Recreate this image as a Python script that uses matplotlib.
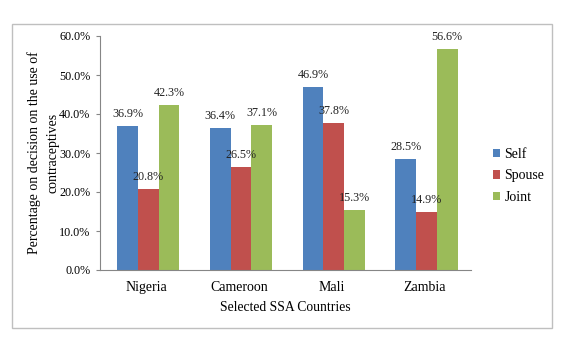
import matplotlib
matplotlib.use('Agg')
import matplotlib.pyplot as plt
from matplotlib.patches import Rectangle
import numpy as np

plt.rcParams['font.family'] = ['Liberation Serif', 'DejaVu Serif']

countries = ['Nigeria', 'Cameroon', 'Mali', 'Zambia']
groups = ['Self', 'Spouse', 'Joint']
self_pct = [36.9, 36.4, 46.9, 28.5]
spouse_pct = [20.8, 26.5, 37.8, 14.9]
joint_pct = [42.3, 37.1, 15.3, 56.6]
colors = ['#4F81BD', '#C0504D', '#9BBB59']

W, H = 571, 339
fig = plt.figure(figsize=(W / 100, H / 100), dpi=100)

# outer chart border
fig.patches.append(Rectangle((12 / W, 1 - 328 / H), 540 / W, 304 / H,
                             transform=fig.transFigure, fill=False,
                             edgecolor='#BFBFBF', linewidth=1.0))

ax = fig.add_axes([100 / W, 1 - 270 / H, 371 / W, 234 / H])

x = np.arange(len(countries))
w = 0.223
for i, (name, vals) in enumerate(zip(groups, [self_pct, spouse_pct, joint_pct])):
    pos = x + (i - 1) * w + 0.02
    ax.bar(pos, vals, w, color=colors[i], label=name, zorder=2)
    for px, v in zip(pos, vals):
        ax.text(px, v + 1.5, '%.1f%%' % v, ha='center', va='bottom',
                fontsize=8.7, color='#222222', zorder=3)

ax.set_xlim(-0.5, 3.5)
ax.set_ylim(0, 60)
ax.set_yticks(np.arange(0, 61, 10))
ax.set_yticklabels(['%.1f%%' % t for t in np.arange(0, 61, 10)], fontsize=8.7)
ax.set_xticks(x)
ax.set_xticklabels(countries, fontsize=10)
ax.tick_params(axis='x', length=0, pad=8)
ax.tick_params(axis='y', length=3, color='#868686', pad=4)

for s in ['top', 'right']:
    ax.spines[s].set_visible(False)
for s in ['left', 'bottom']:
    ax.spines[s].set_color('#868686')
    ax.spines[s].set_linewidth(0.8)

ax.set_xlabel('Selected SSA Countries', fontsize=9.8, labelpad=5)
ax.set_ylabel('Percentage on decision on the use of\ncontraceptives',
              fontsize=10, linespacing=1.5, va='center')
ax.yaxis.set_label_coords(-0.152, 0.5)

ax.legend(loc='center left', bbox_to_anchor=(480 / W, 1 - 176 / H),
          bbox_transform=fig.transFigure, frameon=False, fontsize=10,
          handlelength=0.55, handleheight=0.55, handletextpad=0.3,
          labelspacing=0.62)

fig.savefig('out.png', dpi=100)
